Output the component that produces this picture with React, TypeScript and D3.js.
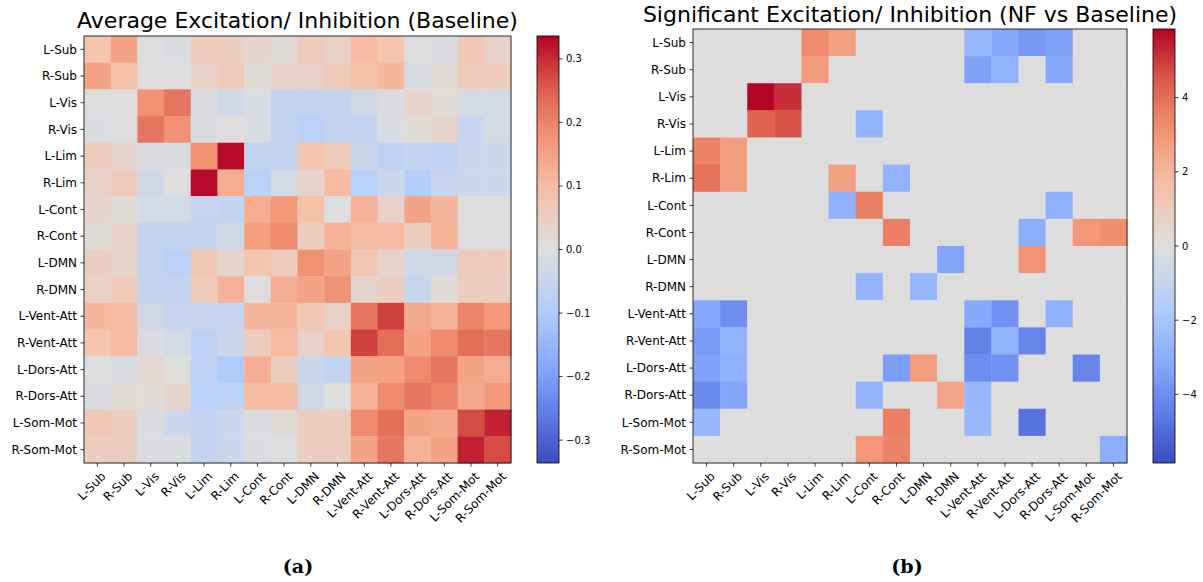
import React from 'react';
import * as d3 from 'd3';

const labels = ['L-Sub', 'R-Sub', 'L-Vis', 'R-Vis', 'L-Lim', 'R-Lim', 'L-Cont', 'R-Cont', 'L-DMN', 'R-DMN', 'L-Vent-Att', 'R-Vent-Att', 'L-Dors-Att', 'R-Dors-Att', 'L-Som-Mot', 'R-Som-Mot'];

const baseline: number[][] = [
  [0.08, 0.15, 0.0, -0.01, 0.06, 0.05, 0.03, 0.01, 0.06, 0.04, 0.1, 0.08, 0.0, -0.01, 0.07, 0.04],
  [0.15, 0.09, 0.0, 0.0, 0.04, 0.06, 0.01, 0.04, 0.04, 0.06, 0.09, 0.11, -0.01, 0.01, 0.06, 0.06],
  [0.0, 0.0, 0.18, 0.22, -0.01, -0.03, -0.01, -0.06, -0.06, -0.06, -0.03, -0.01, 0.03, 0.01, -0.02, -0.02],
  [-0.01, 0.0, 0.22, 0.18, -0.01, 0.0, -0.01, -0.06, -0.08, -0.06, -0.06, -0.01, 0.01, 0.03, -0.05, -0.02],
  [0.06, 0.03, -0.01, -0.01, 0.18, 0.33, -0.06, -0.06, 0.08, 0.06, -0.04, -0.07, -0.06, -0.07, -0.04, -0.04],
  [0.04, 0.06, -0.03, 0.0, 0.33, 0.13, -0.08, -0.02, 0.03, 0.1, -0.08, -0.04, -0.09, -0.05, -0.04, -0.04],
  [0.03, 0.01, -0.02, -0.02, -0.05, -0.06, 0.13, 0.17, 0.09, 0.0, 0.12, 0.04, 0.15, 0.11, 0.0, 0.0],
  [0.01, 0.04, -0.06, -0.06, -0.06, -0.03, 0.16, 0.19, 0.05, 0.12, 0.1, 0.1, 0.05, 0.12, 0.0, 0.0],
  [0.05, 0.03, -0.06, -0.08, 0.07, 0.03, 0.08, 0.06, 0.18, 0.15, 0.07, 0.03, -0.03, -0.03, 0.06, 0.06],
  [0.04, 0.06, -0.06, -0.06, 0.06, 0.12, 0.0, 0.13, 0.15, 0.18, 0.03, 0.05, -0.05, 0.01, 0.05, 0.05],
  [0.11, 0.1, -0.03, -0.05, -0.05, -0.05, 0.11, 0.11, 0.07, 0.04, 0.22, 0.28, 0.14, 0.12, 0.2, 0.17],
  [0.08, 0.1, -0.01, -0.02, -0.07, -0.04, 0.05, 0.1, 0.04, 0.08, 0.28, 0.23, 0.15, 0.19, 0.23, 0.22],
  [0.0, -0.01, 0.02, 0.0, -0.07, -0.1, 0.13, 0.05, -0.04, -0.06, 0.15, 0.15, 0.19, 0.22, 0.15, 0.13],
  [-0.01, 0.01, 0.01, 0.03, -0.08, -0.07, 0.1, 0.1, -0.03, 0.0, 0.12, 0.19, 0.22, 0.2, 0.14, 0.17],
  [0.07, 0.05, -0.01, -0.04, -0.06, -0.04, -0.01, 0.01, 0.05, 0.05, 0.19, 0.23, 0.15, 0.14, 0.27, 0.31],
  [0.05, 0.05, -0.01, -0.01, -0.06, -0.04, -0.01, 0.0, 0.05, 0.05, 0.15, 0.22, 0.12, 0.15, 0.31, 0.27],
];

const significant: number[][] = [
  [0, 0, 0, 0, 3.3, 2.7, 0, 0, 0, 0, -2.5, -3.2, -3.7, -3.4, 0, 0],
  [0, 0, 0, 0, 2.9, 0, 0, 0, 0, 0, -3.4, -2.8, 0, -3.2, 0, 0],
  [0, 0, 5.85, 5.2, 0, 0, 0, 0, 0, 0, 0, 0, 0, 0, 0, 0],
  [0, 0, 4.3, 4.6, 0, 0, -2.8, 0, 0, 0, 0, 0, 0, 0, 0, 0],
  [3.5, 2.8, 0, 0, 0, 0, 0, 0, 0, 0, 0, 0, 0, 0, 0, 0],
  [3.9, 2.8, 0, 0, 0, 2.7, 0, -2.8, 0, 0, 0, 0, 0, 0, 0, 0],
  [0, 0, 0, 0, 0, -2.9, 3.6, 0, 0, 0, 0, 0, 0, -2.9, 0, 0],
  [0, 0, 0, 0, 0, 0, 0, 3.6, 0, 0, 0, 0, -3.0, 0, 3.0, 3.2],
  [0, 0, 0, 0, 0, 0, 0, 0, 0, -3.3, 0, 0, 3.1, 0, 0, 0],
  [0, 0, 0, 0, 0, 0, -2.7, 0, -2.6, 0, 0, 0, 0, 0, 0, 0],
  [-3.2, -4.0, 0, 0, 0, 0, 0, 0, 0, 0, -3.1, -3.9, 0, -2.9, 0, 0],
  [-3.6, -2.8, 0, 0, 0, 0, 0, 0, 0, 0, -4.4, -2.8, -4.3, 0, 0, 0],
  [-3.4, -2.9, 0, 0, 0, 0, 0, -3.5, 2.8, 0, -4.0, -3.9, 0, 0, -4.3, 0],
  [-4.1, -3.3, 0, 0, 0, 0, -2.7, 0, 0, 2.5, -2.6, 0, 0, 0, 0, 0],
  [-2.6, 0, 0, 0, 0, 0, 0, 3.6, 0, 0, -2.5, 0, -4.8, 0, 0, 0],
  [0, 0, 0, 0, 0, 0, 3.0, 3.5, 0, 0, 0, 0, 0, 0, 0, -3.0],
];

const baselineTicks = [-0.3, -0.2, -0.1, 0, 0.1, 0.2, 0.3];
const significantTicks = [-4, -2, 0, 2, 4];

const coolwarmStops = ['#3b4cc0', '#6282ea', '#8db0fe', '#b8d0f9', '#dddddd', '#f5c4ad', '#f49a7b', '#de604d', '#b40426'];
const coolwarm = d3.piecewise(d3.interpolateRgb, coolwarmStops);

const FONT = 'DejaVu Sans, sans-serif';
const fmtMinus = (s: string) => s.replace('-', '\u2212');

type PanelProps = {
  data: number[][];
  vmax: number;
  x0: number;
  y0: number;
  size: number;
  title: string;
  titleY: number;
  cbX: number;
  ticks: number[];
  tickFmt: (v: number) => string;
  caption: string;
  captionX: number;
};

function Panel(p: PanelProps) {
  const n = labels.length;
  const band = d3.scaleBand<number>().domain(d3.range(n)).range([0, p.size]);
  const color = d3.scaleSequential(coolwarm).domain([-p.vmax, p.vmax]).clamp(true);
  const cbY = d3.scaleLinear().domain([-p.vmax, p.vmax]).range([p.y0 + p.size, p.y0]);
  const cbW = 22;
  const gradId = 'grad-' + p.caption.replace(/[()]/g, '');
  const stops = d3.range(0, 1.0001, 0.05);
  return (
    <g>
      <defs>
        <linearGradient id={gradId} x1="0" y1="1" x2="0" y2="0">
          {stops.map((t) => (
            <stop key={t} offset={t} stopColor={coolwarm(t)} />
          ))}
        </linearGradient>
      </defs>
      <text x={p.x0 + p.size / 2} y={p.titleY} textAnchor="middle" fontFamily={FONT} fontSize={22}>
        {p.title}
      </text>
      {p.data.map((row, i) =>
        row.map((v, j) => (
          <rect
            key={i + '-' + j}
            x={p.x0 + (band(j) as number)}
            y={p.y0 + (band(i) as number)}
            width={band.bandwidth() + 0.4}
            height={band.bandwidth() + 0.4}
            fill={color(v)}
          />
        ))
      )}
      <rect x={p.x0} y={p.y0} width={p.size} height={p.size} fill="none" stroke="#000" strokeWidth={0.8} />
      {labels.map((l, i) => {
        const y = p.y0 + (band(i) as number) + band.bandwidth() / 2;
        return (
          <g key={'y' + l}>
            <line x1={p.x0 - 3.5} x2={p.x0} y1={y} y2={y} stroke="#000" strokeWidth={0.8} />
            <text x={p.x0 - 7} y={y} dy="0.35em" textAnchor="end" fontFamily={FONT} fontSize={12}>
              {l}
            </text>
          </g>
        );
      })}
      {labels.map((l, j) => {
        const x = p.x0 + (band(j) as number) + band.bandwidth() / 2;
        const yb = p.y0 + p.size;
        return (
          <g key={'x' + l}>
            <line x1={x} x2={x} y1={yb} y2={yb + 3.5} stroke="#000" strokeWidth={0.8} />
            <text
              transform={`translate(${x + 4},${yb + 9}) rotate(-45)`}
              textAnchor="end"
              dy="0.6em"
              fontFamily={FONT}
              fontSize={12}
            >
              {l}
            </text>
          </g>
        );
      })}
      <rect x={p.cbX} y={p.y0} width={cbW} height={p.size} fill={`url(#${gradId})`} stroke="#000" strokeWidth={0.8} />
      {p.ticks.map((t) => (
        <g key={'t' + t}>
          <line x1={p.cbX + cbW} x2={p.cbX + cbW + 3.5} y1={cbY(t)} y2={cbY(t)} stroke="#000" strokeWidth={0.8} />
          <text x={p.cbX + cbW + 7} y={cbY(t)} dy="0.35em" fontFamily={FONT} fontSize={10}>
            {p.tickFmt(t)}
          </text>
        </g>
      ))}
      <text
        x={p.captionX}
        y={573}
        textAnchor="middle"
        fontFamily="DejaVu Serif, serif"
        fontWeight="bold"
        fontSize={19}
      >
        {p.caption}
      </text>
    </g>
  );
}

export default function App() {
  return (
    <svg width={1203} height={582} style={{ position: 'absolute', left: 0, top: 0, background: '#fff' }}>
      <rect width={1203} height={582} fill="#fff" />
      <Panel
        data={baseline}
        vmax={0.336}
        x0={84}
        y0={36}
        size={427}
        title="Average Excitation/ Inhibition (Baseline)"
        titleY={28}
        cbX={537}
        ticks={baselineTicks}
        tickFmt={(v) => fmtMinus(v.toFixed(1))}
        caption="(a)"
        captionX={298}
      />
      <Panel
        data={significant}
        vmax={5.85}
        x0={693}
        y0={29}
        size={434}
        title="Significant Excitation/ Inhibition (NF vs Baseline)"
        titleY={22}
        cbX={1153}
        ticks={significantTicks}
        tickFmt={(v) => fmtMinus(String(v))}
        caption="(b)"
        captionX={907}
      />
    </svg>
  );
}
